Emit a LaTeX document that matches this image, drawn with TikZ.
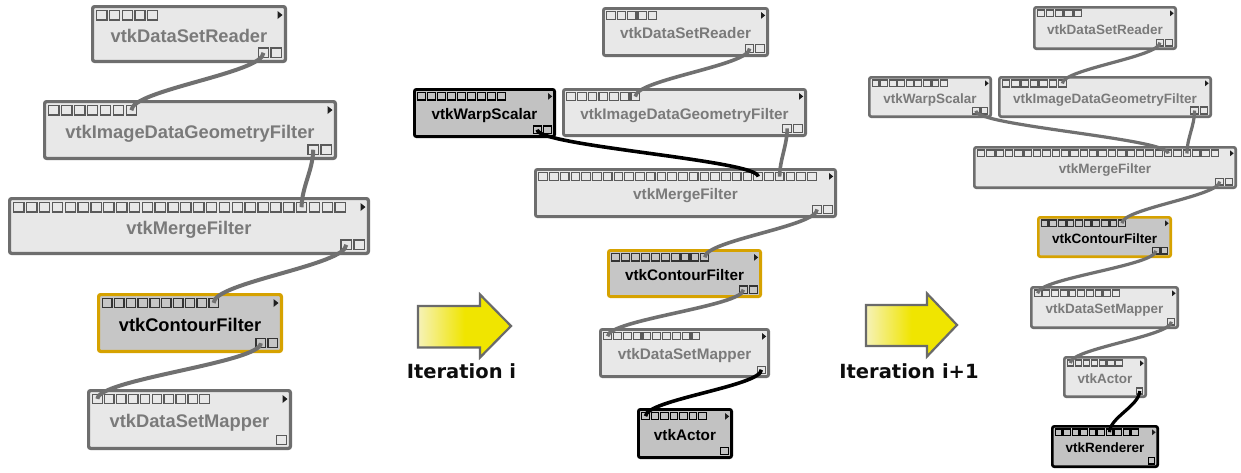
\documentclass[tikz,border=0pt]{standalone}
\usepackage{fontspec}
\newfontfamily\modfont{Liberation Sans}
\newfontfamily\labfont{DejaVu Sans}
\usetikzlibrary{calc}
\definecolor{modfill}{HTML}{E8E8E8}
\definecolor{modline}{HTML}{6E6E6E}
\definecolor{modtext}{HTML}{7A7A7A}
\definecolor{selfill}{HTML}{C6C6C6}
\definecolor{goldline}{HTML}{D6A200}
\definecolor{blkfill}{HTML}{C2C2C2}
\definecolor{wiregrey}{HTML}{707070}
\definecolor{portgrey}{HTML}{5A5A5A}
\definecolor{arrowpale}{HTML}{F6F2B8}
\definecolor{arrowyel}{HTML}{F0E500}
\definecolor{arrowline}{HTML}{6A6A6A}

\pgfkeys{/vtk/.is family, /vtk/.cd,
 in/.store in=\vtkin, out/.store in=\vtkout, p/.store in=\vtkp,
 k/.store in=\vtkk, kind/.store in=\vtkkind, fs/.store in=\vtkfs}

\tikzset{
 modgrey/.style={draw=modline, fill=modfill, text=modtext},
 modgold/.style={draw=goldline, fill=selfill, text=black},
 modblack/.style={draw=black, fill=blkfill, text=black},
 portsq/.style={fill=none, inner sep=0pt},
 portcgrey/.style={draw=portgrey},
 portcgold/.style={draw=black!80},
 portcblack/.style={draw=black},
 tri/.style={fill=black!88},
 wire/.style={draw=wiregrey},
 wireblack/.style={draw=black},
 itlabel/.style={font=\fontsize{19.5pt}{19.5pt}\selectfont\labfont\bfseries, text=black!95, anchor=base, inner sep=0pt},
 bigarrow/.style={draw=arrowline, line width=2.2pt, line join=miter, left color=arrowpale, right color=arrowyel, middle color=arrowyel}
}

% #1 options, #2 name, #3 x1, #4 y1, #5 x2, #6 y2, #7 text
\newcommand\vtkmod[7][]{%
 \pgfkeys{/vtk/.cd, in=1, out=1, p=12, k=1, kind=grey, fs=18, #1}%
 \pgfmathsetmacro\vlw{1.2+2*\vtkk}%
 \pgfmathsetmacro\vcx{(#3+#5)/2}%
 \pgfmathsetmacro\vcy{(#4+#6)/2}%
 \pgfmathsetmacro\vw{#5-#3-\vlw}%
 \pgfmathsetmacro\vh{#6-#4-\vlw}%
 \pgfmathsetmacro\vth{1.0*\vtkfs}%
 \pgfmathsetmacro\vtd{0.1*\vtkfs}%
 \node[mod\vtkkind, line width=\vlw pt, rounded corners=2pt, minimum width=\vw pt, minimum height=\vh pt, inner sep=0pt, text height=\vth pt, text depth=\vtd pt, font=\fontsize{\vtkfs pt}{\vtkfs pt}\selectfont\modfont\bfseries] (#2) at (\vcx,\vcy) {#7};
 \pgfmathsetmacro\vpw{0.8*\vtkp}%
 \pgfmathsetmacro\vph{0.74*\vtkp}%
 \pgfmathsetmacro\vplw{0.55+0.75*\vtkk}%
 \pgfmathsetmacro\vpy{#4+5.5*\vtkk+\vph/2}%
 \foreach \i in {1,...,\vtkin}{%
   \pgfmathsetmacro\vpx{#3+4.5*\vtkk+(\i-0.5)*\vtkp}%
   \node[portsq, portc\vtkkind, line width=\vplw pt, minimum width=\vpw pt, minimum height=\vph pt] (#2-i\i) at (\vpx,\vpy) {};
 }%
 \pgfmathsetmacro\vqy{#6-5.5*\vtkk-\vph/2}%
 \foreach \i in {1,...,\vtkout}{%
   \pgfmathsetmacro\vqx{#5-4.5*\vtkk-(\vtkout-\i+0.5)*\vtkp}%
   \node[portsq, portc\vtkkind, line width=\vplw pt, minimum width=\vpw pt, minimum height=\vph pt] (#2-o\i) at (\vqx,\vqy) {};
 }%
 \fill[tri] (#5-9.5*\vtkk, #4+6*\vtkk) -- (#5-4.5*\vtkk, #4+10*\vtkk) -- (#5-9.5*\vtkk, #4+14*\vtkk) -- cycle;
}

% wire between two port nodes
\newcommand\conn[4][wire]{%
 \path (#2.center); \pgfgetlastxy{\cxa}{\cya}%
 \path (#3.center); \pgfgetlastxy{\cxb}{\cyb}%
 \pgfmathsetmacro\ch{0.35*abs(\cya-\cyb)}%
 \draw[#1, line width=#4pt] (#2.center) .. controls +(0pt,-\ch pt) and +(0pt,\ch pt) .. (#3.center);}

\begin{document}
\begin{tikzpicture}[x=1pt,y=-1pt]
\useasboundingbox (0,0) rectangle (1241,472);
\fill[white] (0,0) rectangle (1241,472);

% ---------- panel 1 ----------
\vtkmod[in=5,out=2,p=12.7,k=1,fs=18.3]{R1}{91}{5}{287}{63}{vtkDataSetReader}
\vtkmod[in=7,out=2,p=12.9,k=1,fs=18.3]{I1}{43}{100}{337}{160}{vtkImageDataGeometryFilter}
\vtkmod[in=26,out=2,p=12.85,k=1,fs=18.3]{M1}{8}{197}{370}{255}{vtkMergeFilter}
\vtkmod[in=10,out=2,p=11.8,k=1,fs=18.3,kind=gold]{C1}{97}{293}{283}{353}{vtkContourFilter}
\vtkmod[in=10,out=1,p=11.9,k=1,fs=18.3]{D1}{87}{389}{292}{450}{vtkDataSetMapper}

\conn{R1-o1}{I1-i7}{4}
\conn{I1-o1}{M1-i23}{4}
\conn{M1-o1}{C1-i10}{4}
\conn{C1-o1}{D1-i1}{4}

% ---------- arrow 1 ----------
\path[bigarrow] (418,306) -- (480,306) -- (480,294.5) -- (511,326) -- (480,357.5) -- (480,347.5) -- (418,347.5) -- cycle;
\node[itlabel] (it1) at (461.5,378) {Iteration i};

% ---------- panel 2 ----------
\vtkmod[in=5,out=2,p=10.4,k=0.84,fs=15.3]{R2}{602}{7}{769}{57}{vtkDataSetReader}
\vtkmod[in=9,out=2,p=10,k=0.84,fs=15.3,kind=black]{W2}{413}{88}{556}{138}{vtkWarpScalar}
\vtkmod[in=7,out=2,p=10.7,k=0.84,fs=15.3]{I2}{562}{88}{807}{137}{vtkImageDataGeometryFilter}
\vtkmod[in=26,out=2,p=10.75,k=0.84,fs=15.3]{M2}{534}{168}{837}{218}{vtkMergeFilter}
\vtkmod[in=10,out=2,p=9.9,k=0.84,fs=15.3,kind=gold]{C2}{607}{249}{762}{298}{vtkContourFilter}
\vtkmod[in=10,out=1,p=9.8,k=0.84,fs=15.3]{D2}{599}{328}{770}{378}{vtkDataSetMapper}
\vtkmod[in=7,out=1,p=9.5,k=0.84,fs=15.3,kind=black]{A2}{637}{408}{733}{459}{vtkActor}

\conn{R2-o1}{I2-i7}{3.6}
\conn{I2-o1}{M2-i23}{3.6}
\conn[wireblack]{W2-o1}{M2-i21}{3.6}
\conn{M2-o1}{C2-i10}{3.6}
\conn{C2-o1}{D2-i1}{3.6}
\conn[wireblack]{D2-o1}{A2-i1}{3.6}

% ---------- arrow 2 ----------
\path[bigarrow] (866,305) -- (927,305) -- (927,293.5) -- (957,325) -- (927,356.5) -- (927,346) -- (866,346) -- cycle;
\node[itlabel] (it2) at (909,378) {Iteration i+1};

% ---------- panel 3 ----------
\vtkmod[in=5,out=2,p=9.2,k=0.73,fs=13.5]{R3}{1033}{6}{1177}{50}{vtkDataSetReader}
\vtkmod[in=9,out=2,p=8.55,k=0.73,fs=13.5]{W3}{868}{76}{992}{118}{vtkWarpScalar}
\vtkmod[in=7,out=2,p=9.4,k=0.73,fs=13.5]{I3}{998}{76}{1212}{118}{vtkImageDataGeometryFilter}
\vtkmod[in=26,out=2,p=9.36,k=0.73,fs=13.5]{M3}{973}{146}{1237}{189}{vtkMergeFilter}
\vtkmod[in=10,out=2,p=8.6,k=0.73,fs=13.5,kind=gold]{C3}{1037}{216}{1172}{258}{vtkContourFilter}
\vtkmod[in=10,out=1,p=8.7,k=0.73,fs=13.5]{D3}{1030}{286}{1179}{329}{vtkDataSetMapper}
\vtkmod[in=7,out=1,p=8.1,k=0.73,fs=13.5]{A3}{1063}{356}{1147}{398}{vtkActor}
\vtkmod[in=10,out=1,p=8.5,k=0.73,fs=13.5,kind=black]{N3}{1051}{425}{1159}{468}{vtkRenderer}

\conn{R3-o1}{I3-i7}{3.2}
\conn{I3-o1}{M3-i23}{3.2}
\conn{W3-o1}{M3-i21}{3.2}
\conn{M3-o1}{C3-i10}{3.2}
\conn{C3-o1}{D3-i1}{3.2}
\conn{D3-o1}{A3-i1}{3.2}
\conn[wireblack]{A3-o1}{N3-i7}{3.2}
\end{tikzpicture}
\end{document}
